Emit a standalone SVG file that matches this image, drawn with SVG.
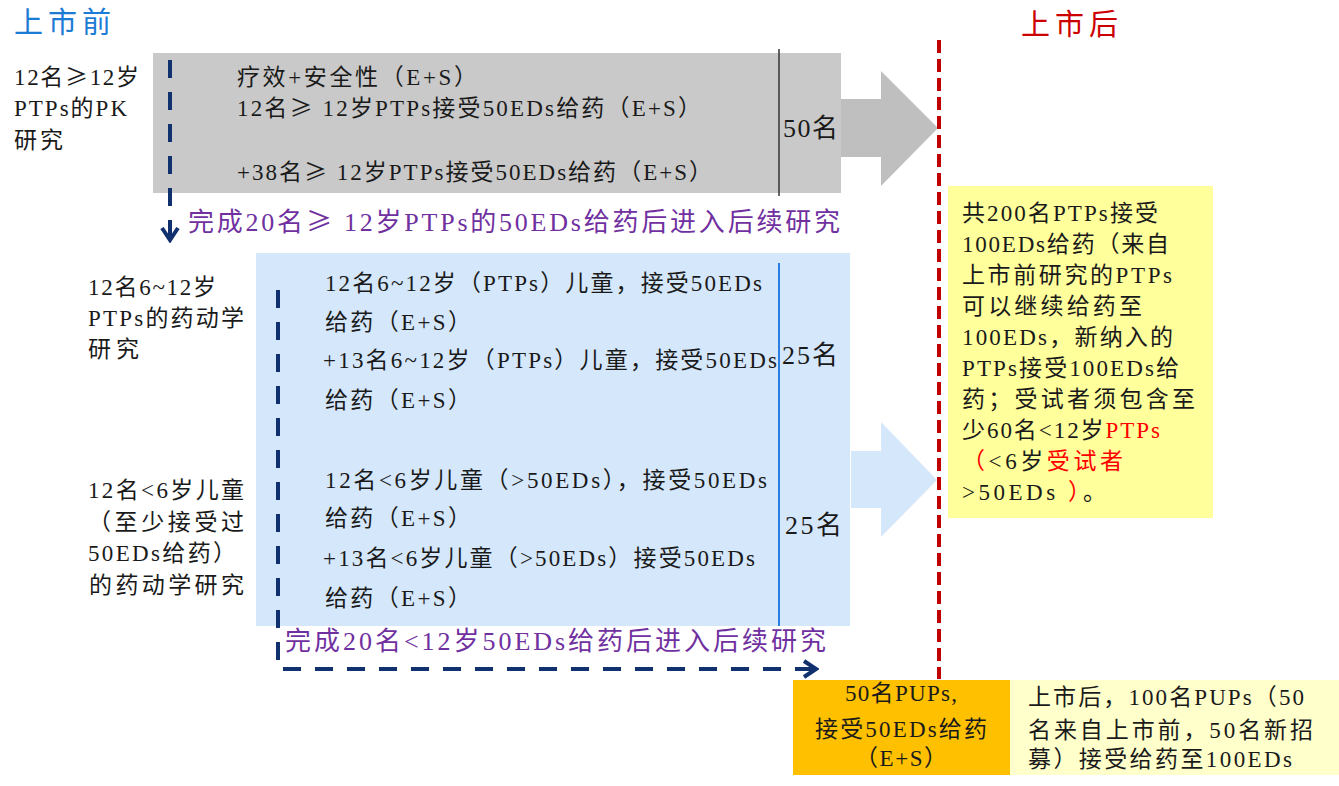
<svg xmlns="http://www.w3.org/2000/svg" width="1339" height="786" viewBox="0 0 1339 786">
  <style>
    text { font-family: "Liberation Serif", "Noto Sans CJK SC", serif; fill: #1a1a1a; }
    .t22 { font-size: 23px; }
    .t26 { font-size: 26px; }
    .title { font-size: 29px; letter-spacing: 5px; }
    .purple { font-size: 26px; fill: #7030a0; }
    .red { fill: #ff0000; }
    .ge { font-family: "Noto Sans CJK SC", sans-serif; }
    .navy { fill: none; stroke: #11306e; stroke-width: 4; stroke-dasharray: 18 14; }
  </style>
  <defs>
    <marker id="chev" markerUnits="userSpaceOnUse" viewBox="0 0 20 20" refX="17" refY="10" markerWidth="20" markerHeight="20" orient="auto">
      <polyline points="5,2 17,10 5,18" fill="none" stroke="#11306e" stroke-width="4"/>
    </marker>
  </defs>
  <rect width="1339" height="786" fill="#ffffff"/>

  <g id="title-pre"><text class="title" x="14" y="33" style="fill:#1c7cd5">上市前</text></g>
  <g id="title-post"><text class="title" x="1021" y="35" style="fill:#cc0000">上市后</text></g>

  <g id="label-pk" class="t22">
    <text x="14" y="85" textLength="125">12名<tspan class="ge">≥</tspan>12岁</text>
    <text x="14" y="116" textLength="113">PTPs的PK</text>
    <text x="14" y="148" textLength="49">研究</text>
  </g>

  <g id="node-gray">
    <rect x="153" y="53" width="688" height="140" fill="#c9c9c9"/>
    <line x1="779" y1="49" x2="779" y2="196" stroke="#333333" stroke-width="1.5"/>
    <g class="t22">
      <text x="237" y="85" textLength="240">疗效+安全性（E+S）</text>
      <text x="237" y="116" textLength="464">12名<tspan class="ge">≥</tspan> 12岁PTPs接受50EDs给药（E+S）</text>
      <text x="237" y="180" textLength="475">+38名<tspan class="ge">≥</tspan> 12岁PTPs接受50EDs给药（E+S）</text>
    </g>
    <text class="t26" x="783" y="137" textLength="55">50名</text>
  </g>

  <g id="label-purple-1"><text class="purple" x="188" y="231" textLength="652">完成20名<tspan class="ge">≥</tspan> 12岁PTPs的50EDs给药后进入后续研究</text></g>

  <g id="label-6-12" class="t22">
    <text x="88" y="295" textLength="128">12名6~12岁</text>
    <text x="88" y="326" textLength="156">PTPs的药动学</text>
    <text x="88" y="357" textLength="51">研究</text>
  </g>
  <g id="label-lt6" class="t22">
    <text x="88" y="498" textLength="156">12名&lt;6岁儿童</text>
    <text x="88" y="530" textLength="156">（至少接受过</text>
    <text x="88" y="561" textLength="148">50EDs给药）</text>
    <text x="89" y="593" textLength="155">的药动学研究</text>
  </g>

  <g id="node-blue">
    <rect x="256" y="253" width="594" height="373" fill="#d5e7fb"/>
    <line x1="779" y1="263" x2="779" y2="626" stroke="#2a7de1" stroke-width="2"/>
    <g class="t22">
      <text x="325" y="291" textLength="437">12名6~12岁（PTPs）儿童，接受50EDs</text>
      <text x="325" y="330" textLength="146">给药（E+S）</text>
      <text x="323" y="368" textLength="454">+13名6~12岁（PTPs）儿童，接受50EDs</text>
      <text x="325" y="408" textLength="146">给药（E+S）</text>
      <text x="325" y="488" textLength="442">12名&lt;6岁儿童（&gt;50EDs），接受50EDs</text>
      <text x="325" y="526" textLength="146">给药（E+S）</text>
      <text x="323" y="566" textLength="432">+13名&lt;6岁儿童（&gt;50EDs）接受50EDs</text>
      <text x="325" y="606" textLength="146">给药（E+S）</text>
    </g>
    <text class="t26" x="782" y="364" textLength="56">25名</text>
    <text class="t26" x="785" y="534" textLength="57">25名</text>
  </g>

  <g id="label-purple-2"><text class="purple" x="285" y="650" textLength="541">完成20名&lt;12岁50EDs给药后进入后续研究</text></g>

  <g id="node-yellow">
    <rect x="948" y="186" width="265" height="332" fill="#ffff9b"/>
    <g class="t22">
      <text x="962" y="221" textLength="196">共200名PTPs接受</text>
      <text x="962" y="252" textLength="207">100EDs给药（来自</text>
      <text x="962" y="283" textLength="210">上市前研究的PTPs</text>
      <text x="962" y="314" textLength="180">可以继续给药至</text>
      <text x="962" y="345" textLength="211">100EDs，新纳入的</text>
      <text x="962" y="376" textLength="217">PTPs接受100EDs给</text>
      <text x="962" y="407" textLength="233">药；受试者须包含至</text>
      <text x="962" y="438" textLength="198">少60名&lt;12岁<tspan class="red">PTPs</tspan></text>
      <text x="962" y="469" textLength="161"><tspan class="red">（</tspan>&lt;6岁<tspan class="red">受试者</tspan></text>
      <text x="962" y="500" textLength="144">&gt;50EDs <tspan class="red">）</tspan>。</text>
    </g>
  </g>

  <g id="node-orange">
    <rect x="793" y="680" width="217" height="95" fill="#ffc000"/>
    <g class="t22" text-anchor="middle">
      <text x="901" y="701" textLength="112">50名PUPs,</text>
      <text x="901" y="737" textLength="172">接受50EDs给药</text>
      <text x="901" y="766" textLength="92">（E+S）</text>
    </g>
  </g>

  <g id="node-lightyellow">
    <rect x="1010" y="680" width="329" height="95" fill="#ffffcc"/>
    <g class="t22">
      <text x="1028" y="705" textLength="276">上市后，100名PUPs（50</text>
      <text x="1028" y="738" textLength="285">名来自上市前，50名新招</text>
      <text x="1028" y="767" textLength="264">募）接受给药至100EDs</text>
    </g>
  </g>

  <g id="connectors">
    <polygon points="841,99 881,99 881,71 938,128 881,186 881,157 841,157" fill="#bfbfbf"/>
    <polygon points="851,451 881,451 881,422 937,480 881,537 881,508 851,508" fill="#d5e7fb"/>
    <path class="navy" d="M170,60 V240" marker-end="url(#chev)"/>
    <path class="navy" d="M278,290 V669 H816" marker-end="url(#chev)"/>
    <line x1="939" y1="40" x2="939" y2="679" stroke="#c00000" stroke-width="4" stroke-dasharray="13 6"/>
  </g>
</svg>
